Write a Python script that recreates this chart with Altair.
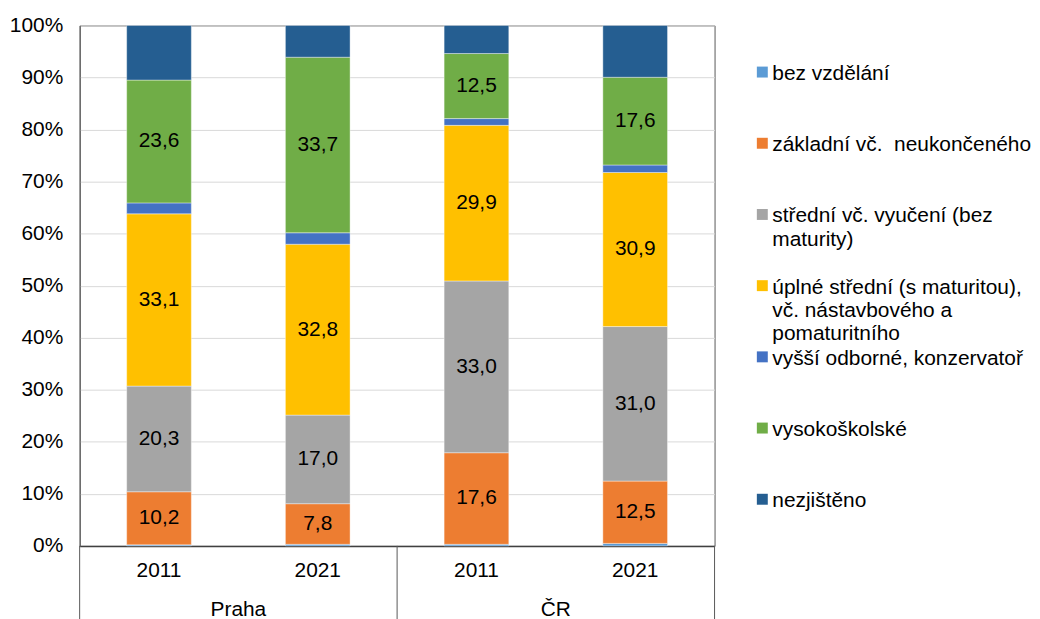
import altair as alt
import pandas as pd

FONT = "Liberation Sans"

groups = ["Praha", "Praha", "ČR", "ČR"]
years = ["2011", "2021", "2011", "2021"]

categories = [
    "bez vzdělání",
    "základní vč.  neukončeného",
    "střední vč. vyučení (bez maturity)",
    "úplné střední (s maturitou), vč. nástavbového a pomaturitního",
    "vyšší odborné, konzervatoř",
    "vysokoškolské",
    "nezjištěno",
]
legend_text = [
    "bez vzdělání",
    "základní vč.\u00a0 neukončeného",
    "střední vč. vyučení (bez\nmaturity)",
    "úplné střední (s maturitou),\nvč. nástavbového a\npomaturitního",
    "vyšší odborné, konzervatoř",
    "vysokoškolské",
    "nezjištěno",
]
colors = ["#5B9BD5", "#ED7D31", "#A5A5A5", "#FFC000", "#4472C4", "#70AD47", "#255E91"]
labelled = [False, True, True, True, False, True, False]

bez = [0.2, 0.3, 0.3, 0.5]
zakladni = [10.2, 7.8, 17.6, 12.5]
stredni = [20.3, 17.0, 33.0, 31.0]
uplne = [33.1, 32.8, 29.9, 30.9]
vyssi = [2.1, 2.2, 1.3, 1.5]
vysoko = [23.6, 33.7, 12.5, 17.6]
nezj = [10.5, 6.1, 5.4, 10.4]

series = [bez, zakladni, stredni, uplne, vyssi, vysoko, nezj]
bar_names = [f"{g} {y}" for g, y in zip(groups, years)]

rows = []
for i, b in enumerate(bar_names):
    for k, cat in enumerate(categories):
        rows.append({"bar": b, "category": cat, "idx": k,
                     "value": series[k][i], "labelled": labelled[k]})
df = pd.DataFrame(rows)

first_of_group = {}
for g, b in zip(groups, bar_names):
    first_of_group.setdefault(g, b)
gdf = pd.DataFrame({"group": list(first_of_group.keys()),
                    "first": list(first_of_group.values())})
left_edges = pd.DataFrame({"bar": list(first_of_group.values())})
right_edge = pd.DataFrame({"bar": [bar_names[-1]]})

W, H = 638, 523

xscale = alt.Scale(domain=bar_names, paddingInner=0, paddingOuter=0)
cscale = alt.Scale(domain=categories, range=colors)

xaxis = alt.Axis(title=None, labelExpr="split(datum.label, ' ')[1]", ticks=False,
                 labelPadding=14, labelFontSize=21, labelColor="black", labelAngle=0,
                 domainColor="#404040", domainWidth=1.5, grid=False)
yaxis = alt.Axis(title=None, values=[i / 10 for i in range(11)], format=".0%",
                 ticks=False, labelPadding=17, labelFontSize=21, labelColor="black",
                 gridColor="#d9d9d9", domainColor="#595959")

base = alt.Chart(df).transform_stack(
    stack="value", groupby=["bar"], as_=["y0", "y1"], offset="normalize",
    sort=[alt.SortField("idx", order="ascending")],
)

bars = base.mark_bar(width=65, stroke="white", strokeWidth=0.4).encode(
    x=alt.X("bar:N", scale=xscale, axis=xaxis),
    y=alt.Y("y0:Q", scale=alt.Scale(domain=[0, 1]), axis=yaxis),
    y2="y1:Q",
    color=alt.Color("category:N", scale=cscale, legend=None),
)

labels = base.transform_filter("datum.labelled").transform_calculate(
    mid="(datum.y0 + datum.y1) / 2",
    txt="replace(format(datum.value, '.1f'), '.', ',')",
).mark_text(fontSize=21, color="black").encode(
    x=alt.X("bar:N", scale=xscale),
    y=alt.Y("mid:Q"),
    text="txt:N",
)

glabels = alt.Chart(gdf).mark_text(fontSize=21, color="black", baseline="middle").encode(
    x=alt.X("first:N", scale=xscale, bandPosition=1),
    y=alt.value(H + 64),
    text="group:N",
)

rules_left = alt.Chart(left_edges).mark_rule(color="#595959", strokeWidth=1).encode(
    x=alt.X("bar:N", scale=xscale, bandPosition=0),
    y=alt.value(H),
    y2=alt.value(H + 80),
)
rules_right = alt.Chart(right_edge).mark_rule(color="#595959", strokeWidth=1).encode(
    x=alt.X("bar:N", scale=xscale, bandPosition=1),
    y=alt.value(H),
    y2=alt.value(H + 80),
)

main = alt.layer(bars, labels, glabels, rules_left, rules_right).properties(width=W, height=H)

ldf = pd.DataFrame({"idx": list(range(len(categories))), "category": categories,
                    "label": legend_text})
ly = alt.Y("idx:O", axis=None, scale=alt.Scale(padding=0.655))
sq = alt.Chart(ldf).mark_square(size=121, opacity=1, dy=1).encode(
    x=alt.value(26), y=ly,
    color=alt.Color("category:N", scale=cscale, legend=None),
)
ltxt = alt.Chart(ldf).mark_text(align="left", baseline="top", dy=-9, lineBreak="\n",
                                lineHeight=23.5, fontSize=21, color="black").encode(
    x=alt.value(36), y=ly, text="label:N",
)
legend = alt.layer(sq, ltxt).properties(
    width=290, height=H, view=alt.ViewBackground(stroke="transparent"))

chart = alt.hconcat(main, legend, spacing=20).properties(
    padding={"left": 0, "top": 4, "right": 0, "bottom": 0}
).configure(font=FONT).configure_view(stroke="#595959")

chart.save("out.html", embed_options={"renderer": "svg", "actions": False})
